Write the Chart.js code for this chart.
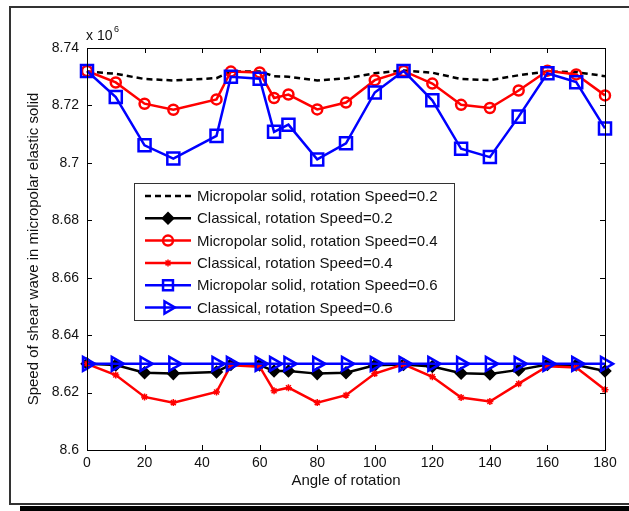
<!DOCTYPE html>
<html>
<head>
<meta charset="utf-8">
<script src="https://cdn.jsdelivr.net/npm/chart.js@4.4.0/dist/chart.umd.min.js"></script>
<style>
  html, body { margin: 0; padding: 0; background: #fff; overflow: hidden; }
  #wrap { position: relative; width: 629px; height: 511px; overflow: hidden; }
  #frame { position: absolute; left: 9px; top: 6px; width: 640px; height: 495px; border: 2px solid #333; border-right: none; }
  #shadow { position: absolute; left: 20px; top: 506px; width: 620px; height: 6px; background: #000; }
  canvas { position: absolute; left: 0; top: 0; }
</style>
</head>
<body>
<div id="wrap">
  <div id="frame"></div>
  <div id="shadow"></div>
  <canvas id="chart" width="629" height="511"></canvas>
</div>
<script>
// angle of rotation (degrees)
const angles = [0, 10, 20, 30, 45, 50, 60, 65, 70, 80, 90, 100, 110, 120, 130, 140, 150, 160, 170, 180];

// speed values, x 10^6
const microSpeed02 = [8.7318, 8.7310, 8.7292, 8.7287, 8.7295, 8.7318, 8.7318, 8.7302, 8.7300, 8.7287,
                      8.7294, 8.7312, 8.7322, 8.7314, 8.7292, 8.7288, 8.7305, 8.7318, 8.7316, 8.7302];
const classSpeed02 = [8.6300, 8.6296, 8.6269, 8.6266, 8.6272, 8.6298, 8.6296, 8.6275, 8.6275, 8.6266,
                      8.6269, 8.6295, 8.6298, 8.6291, 8.6267, 8.6265, 8.6279, 8.6298, 8.6296, 8.6275];
const microSpeed04 = [8.7320, 8.7280, 8.7206, 8.7185, 8.7221, 8.7318, 8.7315, 8.7226, 8.7238, 8.7186,
                      8.7210, 8.7288, 8.7320, 8.7276, 8.7202, 8.7191, 8.7252, 8.7321, 8.7308, 8.7235];
const classSpeed04 = [8.6300, 8.6261, 8.6185, 8.6165, 8.6202, 8.6295, 8.6290, 8.6206, 8.6217, 8.6165,
                      8.6191, 8.6266, 8.6298, 8.6255, 8.6183, 8.6169, 8.6231, 8.6292, 8.6287, 8.6210];
const microSpeed06 = [8.7320, 8.7229, 8.7061, 8.7015, 8.7094, 8.7300, 8.7293, 8.7108, 8.7133, 8.7012,
                      8.7068, 8.7245, 8.7320, 8.7218, 8.7049, 8.7020, 8.7161, 8.7312, 8.7281, 8.7120];
const classSpeed06 = [8.6300, 8.6300, 8.6300, 8.6300, 8.6300, 8.6300, 8.6300, 8.6300, 8.6300, 8.6300,
                      8.6300, 8.6300, 8.6300, 8.6300, 8.6300, 8.6300, 8.6300, 8.6300, 8.6300, 8.6300];

const xTicks = [0, 20, 40, 60, 80, 100, 120, 140, 160, 180];
const yTicks = [8.6, 8.62, 8.64, 8.66, 8.68, 8.7, 8.72, 8.74];

const FONT = '"Liberation Sans", Arial, sans-serif';

function pts(ys) {
    return angles.map((a, i) => ({ x: a, y: ys[i] }));
}

const series = [
    { label: 'Micropolar solid, rotation Speed=0.2', data: microSpeed02, color: '#000', dash: [6, 4], style: false, radius: 0 },
    { label: 'Classical, rotation Speed=0.2', data: classSpeed02, color: '#000', dash: [], style: 'rectRot', radius: 5, fill: true },
    { label: 'Micropolar solid, rotation Speed=0.4', data: microSpeed04, color: '#f00', dash: [], style: 'circle', radius: 5 },
    { label: 'Classical, rotation Speed=0.4', data: classSpeed04, color: '#f00', dash: [], style: 'star', radius: 3.5, pw: 1.5 },
    { label: 'Micropolar solid, rotation Speed=0.6', data: microSpeed06, color: '#00f', dash: [], style: 'rect', radius: 8.5 },
    { label: 'Classical, rotation Speed=0.6', data: classSpeed06, color: '#00f', dash: [], style: 'triangle', radius: 8, rotation: 90 }
];

const datasets = series.map((s, i) => ({
    label: s.label,
    data: pts(s.data),
    borderColor: s.color,
    borderWidth: 2.5,
    borderDash: s.dash,
    pointStyle: s.style,
    pointRadius: s.radius,
    pointRotation: s.rotation || 0,
    pointBorderColor: s.color,
    pointBackgroundColor: s.fill ? s.color : 'rgba(0,0,0,0)',
    pointBorderWidth: s.pw || 2.5,
    tension: 0,
    clip: false,
    order: series.length - i
}));

// box, inward ticks, exponent label and legend, MATLAB style
const matlabFrame = {
    id: 'matlabFrame',
    afterDraw(chart) {
        const { ctx, chartArea: a, scales } = chart;
        ctx.save();
        ctx.strokeStyle = '#000';
        ctx.lineWidth = 1;
        ctx.strokeRect(a.left + 0.5, a.top + 0.5, a.right - a.left, a.bottom - a.top);
        const tl = 5;
        ctx.beginPath();
        xTicks.forEach(v => {
            const x = Math.round(scales.x.getPixelForValue(v)) + 0.5;
            ctx.moveTo(x, a.bottom); ctx.lineTo(x, a.bottom - tl);
            ctx.moveTo(x, a.top); ctx.lineTo(x, a.top + tl);
        });
        yTicks.forEach(v => {
            const y = Math.round(scales.y.getPixelForValue(v)) + 0.5;
            ctx.moveTo(a.left, y); ctx.lineTo(a.left + tl, y);
            ctx.moveTo(a.right, y); ctx.lineTo(a.right - tl, y);
        });
        ctx.stroke();

        // exponent
        ctx.fillStyle = '#111';
        ctx.textBaseline = 'alphabetic';
        ctx.font = '14px ' + FONT;
        ctx.fillText('x 10', 86, 40);
        ctx.font = '9px ' + FONT;
        ctx.fillText('6', 114, 32);

        // legend
        const lx = 134, ly = 183, lw = 320, lh = 137;
        ctx.fillStyle = '#fff';
        ctx.fillRect(lx, ly, lw, lh);
        ctx.strokeStyle = '#333';
        ctx.strokeRect(lx + 0.5, ly + 0.5, lw, lh);
        chart.data.datasets.forEach((ds, i) => {
            const y = ly + 13 + i * 22.3;
            ctx.strokeStyle = ds.borderColor;
            ctx.lineWidth = 2.5;
            ctx.setLineDash(ds.borderDash);
            ctx.beginPath();
            ctx.moveTo(145, y); ctx.lineTo(191, y);
            ctx.stroke();
            ctx.setLineDash([]);
            if (ds.pointStyle) {
                ctx.fillStyle = ds.pointBackgroundColor;
                ctx.strokeStyle = ds.pointBorderColor;
                ctx.lineWidth = ds.pointBorderWidth;
                Chart.helpers.drawPoint(ctx, {
                    pointStyle: ds.pointStyle,
                    rotation: ds.pointRotation,
                    radius: Math.min(ds.pointRadius, 7),
                    borderWidth: ds.pointBorderWidth
                }, 168, y);
            }
            ctx.fillStyle = '#111';
            ctx.font = '15px ' + FONT;
            ctx.textBaseline = 'middle';
            ctx.fillText(ds.label, 197, y + 1);
        });
        ctx.restore();
    }
};

new Chart(document.getElementById('chart'), {
    type: 'line',
    data: { datasets: datasets },
    plugins: [matlabFrame],
    options: {
        responsive: false,
        animation: false,
        layout: { padding: { left: 0, top: 48, right: 24, bottom: 0 } },
        plugins: { legend: { display: false }, tooltip: { enabled: false } },
        scales: {
            x: {
                type: 'linear',
                min: 0,
                max: 180,
                afterFit: s => { s.height = 61; },
                afterBuildTicks: s => { s.ticks = xTicks.map(v => ({ value: v })); },
                grid: { display: false, drawTicks: false },
                border: { display: false },
                ticks: { color: '#111', font: { family: FONT, size: 14 }, padding: 5, maxRotation: 0 },
                title: { display: true, text: 'Angle of rotation', color: '#111', font: { family: FONT, size: 15 }, padding: { bottom: 21 } }
            },
            y: {
                type: 'linear',
                min: 8.6,
                max: 8.74,
                afterFit: s => { s.width = 87; },
                afterBuildTicks: s => { s.ticks = yTicks.map(v => ({ value: v })); },
                grid: { display: false, drawTicks: false },
                border: { display: false },
                ticks: {
                    color: '#111',
                    font: { family: FONT, size: 14 },
                    padding: 8,
                    callback: v => String(Number(v.toFixed(2)))
                },
                title: { display: true, text: 'Speed of shear wave in micropolar elastic solid', color: '#111', font: { family: FONT, size: 15 }, padding: { top: 25 } }
            }
        }
    }
});
</script>
</body>
</html>
